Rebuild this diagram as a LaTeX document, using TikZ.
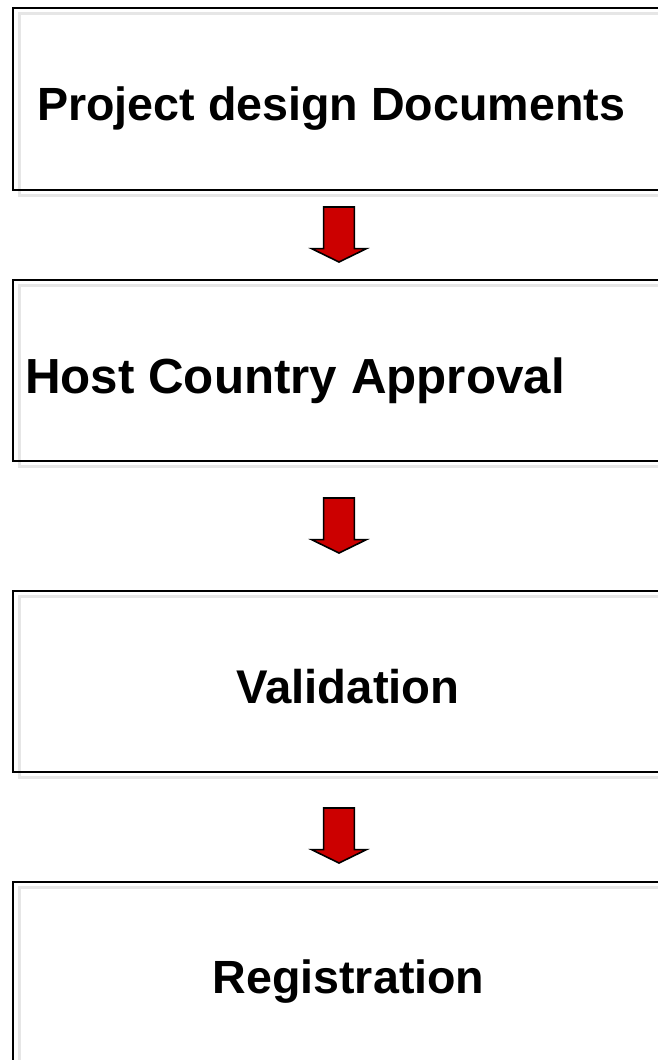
\documentclass[tikz,border=0pt]{standalone}
\usepackage{fontspec}
\setmainfont{Liberation Sans}
\usetikzlibrary{shapes.arrows}
\definecolor{arrowred}{HTML}{CC0000}
\definecolor{shadowgray}{HTML}{E6E6E6}

\begin{document}
\begin{tikzpicture}[x=1pt, y=-1pt,
    box/.style={draw, line width=2pt, rectangle, anchor=north west, inner sep=0pt, outer sep=0pt,
      minimum width=652pt, minimum height=182pt},
    boxshadow/.style={draw=shadowgray, line width=3pt},
    downarrow/.style={single arrow, draw, line width=1.6pt, fill=arrowred, rotate=-90,
      anchor=tail, inner xsep=0pt, inner ysep=13.2pt, outer sep=0pt,
      single arrow head extend=11pt, single arrow tip angle=128,
      minimum width=55pt, minimum height=55pt},
    steptext/.style={font=\fontsize{#1}{50}\selectfont\bfseries, inner sep=0pt},
    steptext/.default=46.5]
  \useasboundingbox (0, 0) rectangle (658, 1060);

  % project design documents
  \begin{scope}[yshift=-8pt]
    \draw[boxshadow] (19, 5) rectangle +(652, 182);
    \node[box] (pdd) at (13, 0) {};
    \node[steptext=46.6, anchor=base west] at (37, 112) (pddtext) {Project design Documents};
  \end{scope}

  % host country approval
  \begin{scope}[yshift=-280pt]
    \draw[boxshadow] (19, 5) rectangle +(652, 181);
    \node[box, minimum height=181pt] (hca) at (13, 0) {};
    \node[steptext=49.3, anchor=base west] at (25, 113) (hcatext) {Host Country Approval};
  \end{scope}

  % validation
  \begin{scope}[yshift=-591pt]
    \draw[boxshadow] (19, 5) rectangle +(652, 181);
    \node[box, minimum height=181pt] (val) at (13, 0) {};
    \node[steptext=47.3, anchor=base] at (348, 112) (valtext) {Validation};
  \end{scope}

  % registration
  \begin{scope}[yshift=-882pt]
    \draw[boxshadow] (19, 5) rectangle +(652, 182);
    \node[box] (reg) at (13, 0) {};
    \node[steptext=46.6, anchor=base] at (348.5, 111) (regtext) {Registration};
  \end{scope}

  % arrows
  \node[downarrow] (a1) at ([yshift=-17pt]pdd.south) {};
  \node[downarrow] (a2) at ([yshift=-37pt]hca.south) {};
  \node[downarrow] (a3) at ([yshift=-36pt]val.south) {};

\end{tikzpicture}
\end{document}
